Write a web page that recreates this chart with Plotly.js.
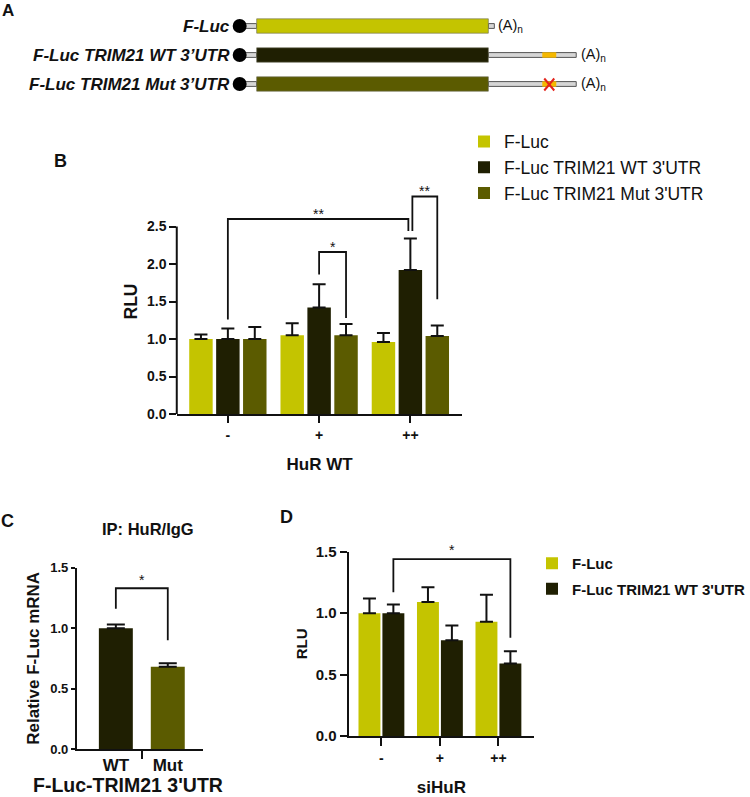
<!DOCTYPE html>
<html><head><meta charset="utf-8">
<script src="https://cdn.plot.ly/plotly-3.0.1.min.js"></script>
<style>html,body{margin:0;padding:0;background:#fff}#chart{width:750px;height:797px}</style>
</head><body><div id="chart"></div>
<script>
// ---------------- DATA ----------------
const groupsB = ['-', '+', '++'];
const seriesB = ['F-Luc', "F-Luc TRIM21 WT 3'UTR", "F-Luc TRIM21 Mut 3'UTR"];
const fLucB = [1.00, 1.05, 0.96];
const fLucErrB = [0.06, 0.16, 0.12];
const wtB = [1.00, 1.42, 1.92];
const wtErrB = [0.14, 0.31, 0.42];
const mutB = [1.00, 1.05, 1.04];
const mutErrB = [0.16, 0.15, 0.14];
const yTicksB = [0, 0.5, 1.0, 1.5, 2.0, 2.5];

const groupsC = ['WT', 'Mut'];
const relMRNA = [1.00, 0.68];
const relMRNAErr = [0.03, 0.03];
const yTicksC = [0, 0.5, 1.0, 1.5];
const xTitleC = "F-Luc-TRIM21 3'UTR";

const groupsD = ['-', '+', '++'];
const seriesD = ['F-Luc', "F-Luc TRIM21 WT 3'UTR"];
const fLucD = [1.00, 1.09, 0.93];
const fLucErrD = [0.12, 0.12, 0.22];
const wtD = [1.00, 0.78, 0.59];
const wtErrD = [0.07, 0.12, 0.10];
const yTicksD = [0, 0.5, 1.0, 1.5];

// significance brackets: [fromGroup, fromSeries, toGroup, toSeries, top, leftLegEnd, rightLegEnd, label]
const sigB = [
  [0, 1, 2, 1, 2.60, 1.26, 2.44, '**'],
  [1, 1, 1, 2, 2.16, 1.86, 1.28, '*'],
  [2, 1, 2, 2, 2.90, 2.44, 1.53, '**']
];
const sigC = [[0, 1, 1.33, 1.16, 0.90, '*']];
const sigD = [[0, 1, 2, 1, 1.44, 1.17, 0.80, '*']];

// panel A constructs
const constructs = ['F-Luc', 'F-Luc TRIM21 WT 3’UTR', 'F-Luc TRIM21 Mut 3’UTR'];
const hasUtr = [false, true, true];
const siteMutated = [false, false, true];
const panelTitleC = 'IP: HuR/IgG';

// ---------------- STYLE ----------------
const COLORS = ['#c4c400', '#1f1f02', '#5b5b00'];
const SITE_COLOR = '#f5b800';
const FONT = 'Liberation Sans, Arial, Helvetica, sans-serif';
const INK = '#111111';
const W = 750, H = 797;
const px = v => v / W;
const py = v => 1 - v / H;

const shapes = [];
const annotations = [];
const traces = [];

function center(g, s, n, slot) { return g + (s - (n - 1) / 2) * slot; }
function bracket(xa, ya, x0, x1, top, yl, yr, label, yshift) {
  shapes.push({type: 'path', xref: xa, yref: ya,
    path: `M${x0},${yl}L${x0},${top}L${x1},${top}L${x1},${yr}`,
    line: {color: INK, width: 1.8}});
  annotations.push({xref: xa, yref: ya, x: (x0 + x1) / 2, y: top, text: label,
    showarrow: false, yanchor: 'bottom', yshift: yshift,
    font: {family: FONT, size: 14, color: INK}});
}
function errBar(err, vals, w) {
  return {type: 'data', symmetric: false, array: err, arrayminus: vals.map(() => 0),
    color: INK, thickness: 2, width: w};
}
const bold = (size) => ({family: FONT, size: size, color: INK, weight: 'bold'});

// ---------------- PANEL B ----------------
const SLOT_B = 0.295, WIDTH_B = 0.257;
const idxB = groupsB.map((_, i) => i);
const valsB = [fLucB, wtB, mutB];
const errsB = [fLucErrB, wtErrB, mutErrB];
valsB.forEach((vals, s) => {
  traces.push({type: 'bar', name: seriesB[s], x: idxB, y: vals,
    width: WIDTH_B, offset: center(0, s, 3, SLOT_B) - WIDTH_B / 2,
    marker: {color: COLORS[s], line: {width: 0}},
    error_y: errBar(errsB[s], vals, 6.5),
    xaxis: 'x', yaxis: 'y', legend: 'legend', hoverinfo: 'y'});
});
const nudgeB = [[0, -0.022], [0, 0], [0.022, 0]];
sigB.forEach((b, i) => {
  const x0 = center(b[0], b[1], 3, SLOT_B) + nudgeB[i][0];
  const x1 = center(b[2], b[3], 3, SLOT_B) + nudgeB[i][1];
  bracket('x', 'y', x0, x1, b[4], b[5], b[6], b[7], -5);
});
// y axis line only up to the last tick
shapes.push({type: 'line', xref: 'x domain', yref: 'y', x0: 0, x1: 0, y0: -0.012, y1: yTicksB[yTicksB.length - 1],
  line: {color: INK, width: 2}});

// ---------------- PANEL C ----------------
const idxC = groupsC.map((_, i) => i);
traces.push({type: 'bar', x: idxC, y: relMRNA, width: 0.654,
  marker: {color: [COLORS[1], COLORS[2]], line: {width: 0}},
  error_y: errBar(relMRNAErr, relMRNA, 9),
  xaxis: 'x2', yaxis: 'y2', showlegend: false, hoverinfo: 'y'});
sigC.forEach(b => bracket('x2', 'y2', b[0], b[1], b[2], b[3], b[4], b[5], -2));
annotations.push({xref: 'paper', yref: 'paper', x: px(128), y: 0, xanchor: 'center', yanchor: 'bottom', borderpad: 0,
  showarrow: false, text: xTitleC, font: bold(19.5)});

// ---------------- PANEL D ----------------
const SLOT_D = 0.409, WIDTH_D = 0.375;
const idxD = groupsD.map((_, i) => i);
const valsD = [fLucD, wtD];
const errsD = [fLucErrD, wtErrD];
valsD.forEach((vals, s) => {
  traces.push({type: 'bar', name: seriesD[s], x: idxD, y: vals,
    width: WIDTH_D, offset: center(0, s, 2, SLOT_D) - WIDTH_D / 2,
    marker: {color: COLORS[s], line: {width: 0}},
    error_y: errBar(errsD[s], vals, 6.5),
    xaxis: 'x3', yaxis: 'y3', legend: 'legend2', legendgroup: 'd' + s, hoverinfo: 'y'});
});
sigD.forEach(b => {
  const x0 = center(b[0], b[1], 2, SLOT_D), x1 = center(b[2], b[3], 2, SLOT_D);
  bracket('x3', 'y3', x0, x1, b[4], b[5], b[6], b[7], -1);
});

// ---------------- PANEL A (schematic) ----------------
const A = {rowY: [26, 55, 84], labelX: 232, dotX: 240, dotR: 7, barX0: 257, barX1: 489, barH: 7.2,
  tailEnd: [495, 577], lineH: 2.4, siteX0: 543, siteX1: 557, polyAX: [497, 580]};
constructs.forEach((name, r) => {
  const cy = A.rowY[r];
  const tail = hasUtr[r] ? A.tailEnd[1] : A.tailEnd[0];
  shapes.push({type: 'rect', xref: 'x4', yref: 'y4', x0: A.dotX, x1: A.barX0, y0: cy - A.lineH, y1: cy + A.lineH,
    fillcolor: '#d6d6d6', line: {color: '#555', width: 1}});
  shapes.push({type: 'circle', xref: 'x4', yref: 'y4', x0: A.dotX - A.dotR, x1: A.dotX + A.dotR, y0: cy - A.dotR, y1: cy + A.dotR,
    fillcolor: '#000', line: {color: '#000', width: 0}});
  shapes.push({type: 'rect', xref: 'x4', yref: 'y4', x0: A.barX1, x1: tail, y0: cy - A.lineH, y1: cy + A.lineH,
    fillcolor: '#d6d6d6', line: {color: '#555', width: 1}});
  shapes.push({type: 'rect', xref: 'x4', yref: 'y4', x0: A.barX0, x1: A.barX1, y0: cy - A.barH, y1: cy + A.barH,
    fillcolor: COLORS[r], line: {color: '#6a6a55', width: 0.6}});
  if (hasUtr[r]) {
    shapes.push({type: 'rect', xref: 'x4', yref: 'y4', x0: A.siteX0, x1: A.siteX1, y0: cy - A.lineH - 0.3, y1: cy + A.lineH + 0.3,
      fillcolor: SITE_COLOR, line: {width: 0}});
  }
  if (siteMutated[r]) {
    const xm = (A.siteX0 + A.siteX1) / 2;
    shapes.push({type: 'line', xref: 'x4', yref: 'y4', x0: xm - 5, x1: xm + 5, y0: cy - 5.5, y1: cy + 6.5, line: {color: '#e3231b', width: 2}});
    shapes.push({type: 'line', xref: 'x4', yref: 'y4', x0: xm + 5, x1: xm - 5, y0: cy - 5.5, y1: cy + 6.5, line: {color: '#e3231b', width: 2}});
  }
  annotations.push({xref: 'x4', yref: 'y4', x: A.labelX, y: cy, xanchor: 'right', yanchor: 'middle', showarrow: false,
    text: name, font: {family: FONT, size: 17, color: INK, weight: 'bold', style: 'italic'}});
  annotations.push({xref: 'x4', yref: 'y4', x: hasUtr[r] ? A.polyAX[1] : A.polyAX[0], y: cy, xanchor: 'left', yanchor: 'middle',
    showarrow: false, text: '(A)<sub>n</sub>', font: {family: FONT, size: 14.5, color: INK}});
});

// panel letters and panel C heading
[['A', 8, 11, 17], ['B', 61, 161, 18], ['C', 8, 521, 18], ['D', 287, 517, 18]].forEach(l => {
  annotations.push({xref: 'paper', yref: 'paper', x: px(l[1]), y: py(l[2]), xanchor: 'center', yanchor: 'middle',
    showarrow: false, text: l[0], font: bold(l[3])});
});
annotations.push({xref: 'paper', yref: 'paper', x: px(148), y: py(529), xanchor: 'center', yanchor: 'middle',
  showarrow: false, text: panelTitleC, font: bold(16.5)});

// ---------------- LAYOUT ----------------
const axisCommon = {showgrid: false, zeroline: false, fixedrange: true, ticks: 'outside', tickwidth: 2, tickcolor: INK,
  linecolor: INK, linewidth: 2};

const layout = {
  width: W, height: H, margin: {l: 0, r: 0, t: 0, b: 0},
  paper_bgcolor: '#fff', plot_bgcolor: 'rgba(0,0,0,0)',
  barmode: 'overlay', showlegend: true, hovermode: false,
  font: {family: FONT, color: INK},
  xaxis: Object.assign({}, axisCommon, {domain: [px(177), px(463)], range: [-0.56, 2.57], anchor: 'y',
    tickvals: idxB, ticktext: groupsB, ticklen: 7, showline: true, tickfont: bold(14),
    title: {text: 'HuR WT', font: bold(17), standoff: 16}}),
  yaxis: Object.assign({}, axisCommon, {domain: [py(414), py(189)], range: [0, 3.0], anchor: 'x',
    tickvals: yTicksB, tickformat: '.1f', ticklen: 6.5, showline: false, tickfont: bold(14),
    title: {text: 'RLU', font: bold(17.5), standoff: 4}}),
  xaxis2: Object.assign({}, axisCommon, {domain: [px(77), px(203)], range: [-0.75, 1.673], anchor: 'y2',
    tickvals: idxC, ticktext: groupsC, ticks: '', showline: true, tickfont: bold(17),
    minor: {tickvals: [0.5], ticks: 'outside', ticklen: 8, tickwidth: 2, tickcolor: INK, showgrid: false}}),
  yaxis2: Object.assign({}, axisCommon, {domain: [py(749), py(567.7)], range: [0, 1.5], anchor: 'x2',
    tickvals: yTicksC, tickformat: '.1f', ticklen: 4, showline: true, tickfont: bold(13),
    title: {text: 'Relative F-Luc mRNA', font: bold(17), standoff: 6}}),
  xaxis3: Object.assign({}, axisCommon, {domain: [px(349), px(535)], range: [-0.562, 2.613], anchor: 'y3',
    tickvals: idxD, ticktext: groupsD, ticklen: 8, showline: true, tickfont: bold(14),
    title: {text: 'siHuR', font: bold(17), standoff: 16}}),
  yaxis3: Object.assign({}, axisCommon, {domain: [py(736), py(551.7)], range: [0, 1.5], anchor: 'x3',
    tickvals: yTicksD, tickformat: '.1f', ticklen: 7, showline: true, tickfont: bold(15),
    title: {text: 'RLU', font: bold(15), standoff: 4}}),
  xaxis4: {domain: [0, 1], range: [0, 750], anchor: 'y4', visible: false, fixedrange: true},
  yaxis4: {domain: [py(105), 1], range: [105, 0], anchor: 'x4', visible: false, fixedrange: true},
  legend: {x: px(464), xanchor: 'left', y: py(123.7), yanchor: 'top', bgcolor: 'rgba(0,0,0,0)', borderwidth: 0,
    font: {family: FONT, size: 17.5, color: INK}, itemclick: false, itemdoubleclick: false},
  legend2: {x: px(533), xanchor: 'left', y: py(547), yanchor: 'top', bgcolor: 'rgba(0,0,0,0)', borderwidth: 0,
    font: bold(15), tracegroupgap: 3, traceorder: 'grouped', itemclick: false, itemdoubleclick: false},
  shapes: shapes,
  annotations: annotations
};

Plotly.newPlot('chart', traces, layout, {displayModeBar: false, responsive: false});
</script>
</body></html>
